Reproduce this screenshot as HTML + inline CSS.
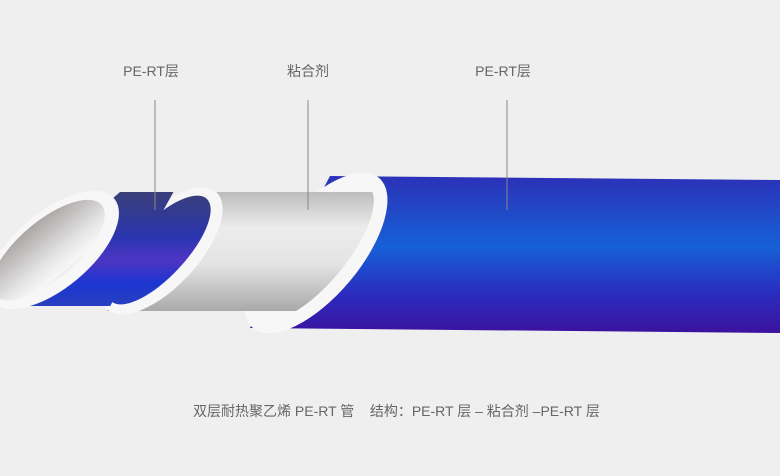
<!DOCTYPE html>
<html><head><meta charset="utf-8"><style>
html,body{margin:0;padding:0;background:#efefef;}
svg{display:block}
text{font-family:"Liberation Sans","Noto Sans CJK SC",sans-serif;fill:#666;}
</style></head><body>
<svg width="780" height="476" viewBox="0 0 780 476" xmlns="http://www.w3.org/2000/svg">
<defs>
<linearGradient id="blue" x1="0" y1="0" x2="0" y2="1">
<stop offset="0" stop-color="#2b31b8"/>
<stop offset="0.45" stop-color="#1660d6"/>
<stop offset="0.75" stop-color="#2a2cc0"/>
<stop offset="1" stop-color="#3b129e"/>
</linearGradient>
<linearGradient id="blue2" gradientUnits="userSpaceOnUse" x1="0" y1="192" x2="0" y2="306">
<stop offset="0" stop-color="#3a3f78"/>
<stop offset="0.4" stop-color="#2a35b0"/>
<stop offset="0.6" stop-color="#4e35c4"/>
<stop offset="0.8" stop-color="#1c35d0"/>
<stop offset="1" stop-color="#2840c0"/>
</linearGradient>
<linearGradient id="gray" gradientUnits="userSpaceOnUse" x1="0" y1="192" x2="0" y2="312">
<stop offset="0" stop-color="#bdbdbd"/>
<stop offset="0.3" stop-color="#ececec"/>
<stop offset="0.6" stop-color="#e4e4e4"/>
<stop offset="1" stop-color="#a8a8a8"/>
</linearGradient>
<linearGradient id="gray2" gradientUnits="userSpaceOnUse" x1="0" y1="200" x2="0" y2="300">
<stop offset="0" stop-color="#8a8482"/>
<stop offset="0.6" stop-color="#e6e6e6"/>
<stop offset="0.75" stop-color="#f6f6f6"/>
<stop offset="1" stop-color="#b0b0b0"/>
</linearGradient>
<clipPath id="c1">
<polygon points="0,0 440,0 253,328 253,476 0,476"/>
<ellipse cx="313" cy="252" rx="86" ry="33" transform="rotate(-50 313 252)"/>
</clipPath>
<clipPath id="c2">
<polygon points="0,0 280,0 108,310 108,476 0,476"/>
<ellipse cx="159" cy="250" rx="70" ry="27" transform="rotate(-47 159 250)"/>
</clipPath>
</defs>
<!-- outer blue pipe -->
<path d="M330,176 L780,180 L780,333 L250,328 Z" fill="url(#blue)"/>
<ellipse cx="316" cy="253" rx="98" ry="44" transform="rotate(-50 316 253)" fill="#f7f7f7"/>
<!-- middle white pipe -->
<polygon points="217,192 460,192 460,311 107,311" fill="url(#gray)" clip-path="url(#c1)"/>
<ellipse cx="162" cy="251" rx="80" ry="36" transform="rotate(-47 162 251)" fill="#f7f7f7"/>
<!-- inner blue pipe -->
<polygon points="120,192 300,192 300,306 -10,306" fill="url(#blue2)" clip-path="url(#c2)"/>
<ellipse cx="53" cy="250" rx="80" ry="38" transform="rotate(-40 53 250)" fill="#f7f7f7"/>
<ellipse cx="48" cy="250" rx="70" ry="29" transform="rotate(-40 48 250)" fill="url(#gray2)"/>
<!-- labels -->
<line x1="155" y1="100" x2="155" y2="210" stroke="#888" stroke-width="1"/>
<line x1="308" y1="100" x2="308" y2="210" stroke="#888" stroke-width="1"/>
<line x1="507" y1="100" x2="507" y2="210" stroke="#888" stroke-width="1"/>
<text x="151" y="76" font-size="14" text-anchor="middle">PE-RT层</text>
<text x="308" y="76" font-size="14" text-anchor="middle">粘合剂</text>
<text x="503" y="76" font-size="14" text-anchor="middle">PE-RT层</text>
<text x="193" y="416" font-size="14" xml:space="preserve">双层耐热聚乙烯 PE-RT 管    结构：PE-RT 层 – 粘合剂 –PE-RT 层</text>
</svg>
</body></html>
